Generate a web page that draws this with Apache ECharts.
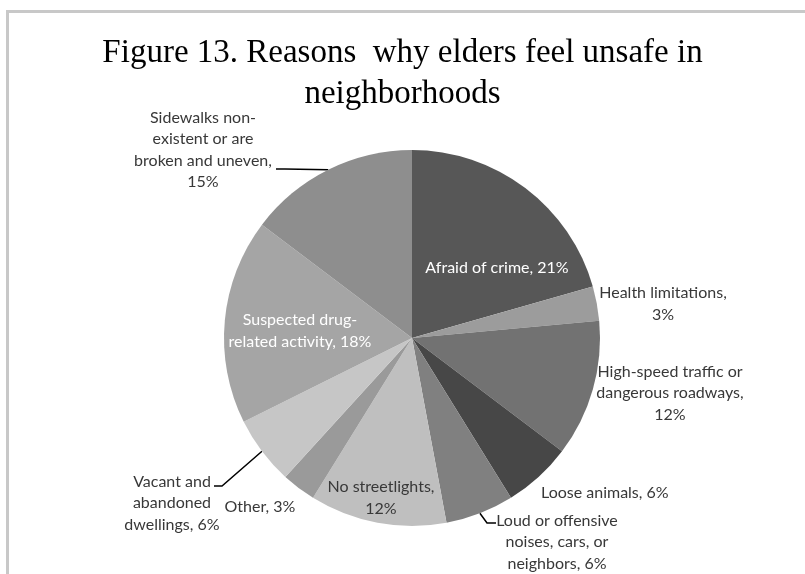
<!DOCTYPE html>
<html>
<head>
<meta charset="utf-8">
<script src="https://cdn.jsdelivr.net/npm/echarts@6/dist/echarts.min.js"></script>
<style>
  html, body { margin: 0; padding: 0; background: #fff; overflow: hidden; }
  #frame { position: absolute; left: 6px; top: 10px; width: 900px; height: 700px;
           border-left: 3px solid #c8c8c8; border-top: 3px solid #c8c8c8; }
  #chart { position: absolute; left: 0; top: 0; width: 805px; height: 574px; }
</style>
</head>
<body>
<div id="frame"></div>
<div id="chart"></div>
<script>
// Reasons and their shares (percent), clockwise from 12 o'clock
const reasons = [
  'Afraid of crime',
  'Health limitations',
  'High-speed traffic or dangerous roadways',
  'Loose animals',
  'Loud or offensive noises, cars, or neighbors',
  'No streetlights',
  'Other',
  'Vacant and abandoned dwellings',
  'Suspected drug-related activity',
  'Sidewalks non-existent or are broken and uneven'
];
const shares = [21, 3, 12, 6, 6, 12, 3, 6, 18, 15];

// Label text, broken into lines the way they are set on the chart
const labelLines = [
  ['Afraid of crime, 21%'],
  ['Health limitations,', '3%'],
  ['High-speed traffic or', 'dangerous roadways,', '12%'],
  ['Loose animals, 6%'],
  ['Loud or offensive', 'noises, cars, or', 'neighbors, 6%'],
  ['No streetlights,', '12%'],
  ['Other, 3%'],
  ['Vacant and', 'abandoned', 'dwellings, 6%'],
  ['Suspected drug-', 'related activity, 18%'],
  ['Sidewalks non-', 'existent or are', 'broken and uneven,', '15%']
];

// Slice fills (grayscale)
const fills = ['#575757', '#9c9c9c', '#727272', '#474747', '#808080',
               '#bfbfbf', '#9a9a9a', '#c6c6c6', '#a5a5a5', '#8e8e8e'];
// Text colour per label
const textColors = ['#ffffff', '#383838', '#383838', '#383838', '#383838',
                    '#383838', '#383838', '#383838', '#ffffff', '#383838'];

// Label placement: centre x, centre y, horizontal alignment
const labelPlace = [
  [497, 268, 'center'],
  [663, 304, 'center'],
  [670, 393, 'center'],
  [541, 493, 'left'],
  [557, 542, 'center'],
  [381, 498, 'center'],
  [260, 507, 'center'],
  [172, 503, 'center'],
  [300, 331, 'center'],
  [203, 150, 'center']
];
// Leader lines: elbow and end point, for labels that have one
const leaders = {
  4: [[487, 523], [496, 523]],
  7: [[222, 486], [214, 486]],
  9: [[285, 169], [276, 169]]
};

const chart = echarts.init(document.getElementById('chart'), null, { renderer: 'canvas' });

const data = reasons.map((name, i) => ({
  name: name,
  value: shares[i],
  itemStyle: { color: fills[i] },
  label: {
    formatter: labelLines[i].join('\n'),
    color: textColors[i],
    align: labelPlace[i][2]
  },
  labelLine: { show: !!leaders[i] }
}));

chart.setOption({
  animation: false,
  title: {
    text: 'Figure 13. Reasons  why elders feel unsafe in\nneighborhoods',
    left: 'center',
    top: 28,
    textStyle: {
      fontFamily: 'Liberation Serif',
      fontWeight: 'normal',
      fontSize: 33,
      lineHeight: 41,
      color: '#000000'
    }
  },
  series: [{
    type: 'pie',
    center: [412, 338],
    radius: 188,
    startAngle: 90,
    clockwise: true,
    avoidLabelOverlap: false,
    minShowLabelAngle: 0,
    label: {
      show: true,
      position: 'outside',
      fontFamily: 'Lato',
      fontSize: 16,
      lineHeight: 21.5
    },
    labelLine: {
      show: false,
      length: 10,
      length2: 10,
      smooth: false,
      lineStyle: { color: '#000000', width: 1.5 }
    },
    labelLayout: function (p) {
      const i = p.dataIndex;
      const pl = labelPlace[i];
      const out = { x: pl[0], y: pl[1], align: pl[2], verticalAlign: 'middle' };
      if (leaders[i] && p.labelLinePoints) {
        out.labelLinePoints = [p.labelLinePoints[0], leaders[i][0], leaders[i][1]];
      }
      return out;
    },
    data: data
  }]
});
</script>
</body>
</html>
